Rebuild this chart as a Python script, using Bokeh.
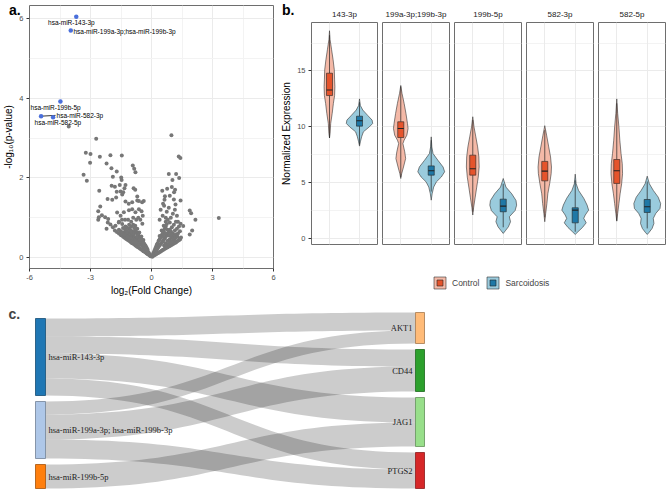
import numpy as np
from bokeh.plotting import figure
from bokeh.models import Range1d, FixedTicker, Grid, Label, Legend, LegendItem, ColumnDataSource, Div
from bokeh.layouts import row, column
from bokeh.embed import file_html
from bokeh.resources import INLINE
from bokeh.core.properties import value

FONT = "Liberation Sans"
SERIF = "Liberation Serif"

# ---------------- panel a data (volcano) ----------------
grey_points = [
    (-2.72, 2.98), (0.98, 3.07), (-3.23, 2.63), (-3.00, 2.60), (-3.02, 2.38), (-3.34, 2.08), (-3.18, 1.93),
    (-2.54, 2.53), (-2.02, 2.57), (-1.46, 2.56), (-2.21, 2.36), (-1.97, 2.24), (-1.71, 2.16), (-1.90, 2.03),
    (-1.49, 2.01), (-0.92, 2.31), (-0.85, 2.23), (-0.79, 2.14), (-1.47, 1.95), (-2.57, 1.68), (-1.96, 1.80),
    (-1.80, 1.78), (-1.71, 1.65), (-1.52, 1.66), (-1.56, 1.82), (-1.28, 1.82), (-1.33, 1.74), (-0.88, 1.74),
    (-0.80, 1.70), (-2.16, 1.47), (-1.93, 1.45), (-1.74, 1.51), (-1.44, 1.58), (-1.39, 1.64), (-1.28, 1.41),
    (-1.12, 1.35), (-0.95, 1.39), (-0.70, 1.43), (-0.46, 1.39), (-0.38, 1.42), (-0.70, 1.53), (-0.62, 1.42),
    (-2.52, 1.28), (-2.62, 1.16), (-2.59, 1.01), (-2.44, 1.06), (-2.28, 1.01), (-2.13, 0.97), (-2.62, 0.95),
    (-2.15, 0.88), (-2.21, 0.72), (-2.02, 0.83), (-1.90, 0.76), (-1.69, 1.13), (-1.52, 1.05), (-1.36, 1.14),
    (-1.11, 1.19), (-0.95, 1.21), (-0.79, 1.14), (-0.62, 1.21), (-0.49, 1.16), (-0.43, 1.05), (-1.61, 0.88),
    (-1.44, 0.84), (-1.28, 0.78), (-1.11, 0.72), (-1.77, 0.80), (-1.52, 0.63), (-1.36, 0.55), (-4.07, 3.29),
    (1.34, 2.54), (1.42, 2.50), (0.85, 2.10), (1.21, 2.10), (1.36, 2.00), (1.03, 1.95), (0.53, 1.68),
    (0.77, 1.73), (1.00, 1.77), (1.11, 1.64), (1.16, 1.70), (0.66, 1.54), (0.64, 1.45), (0.57, 1.35),
    (0.90, 1.55), (1.10, 1.46), (1.18, 1.33), (1.43, 1.43), (1.88, 1.18), (1.95, 1.11), (2.16, 0.95),
    (2.00, 0.68), (1.88, 0.58), (3.31, 0.99), (1.43, 0.85), (1.39, 0.45), (1.56, 0.79), (0.45, 1.20),
    (0.55, 1.05), (0.62, 1.30), (0.75, 1.15), (0.85, 1.25), (0.95, 1.00), (1.05, 1.10), (1.15, 1.20),
    (0.40, 0.95), (0.70, 1.00), (1.25, 1.05), (1.30, 0.90), (-0.55, 0.95), (-0.65, 1.00), (-0.45, 0.85),
    (-0.75, 0.95), (-0.90, 1.00), (-1.15, 0.95), (-1.30, 0.95), (-1.45, 0.95), (-1.60, 0.90),
    (-0.05, 0.03), (-0.08, 0.05), (-0.12, 0.06), (-0.12, 0.11), (-0.16, 0.08), (-0.16, 0.14), (-0.2, 0.09),
    (-0.2, 0.16), (-0.2, 0.21), (-0.25, 0.11), (-0.25, 0.18), (-0.25, 0.26), (-0.3, 0.13), (-0.3, 0.21),
    (-0.3, 0.3), (-0.35, 0.15), (-0.35, 0.24), (-0.35, 0.34), (-0.4, 0.16), (-0.4, 0.27), (-0.4, 0.38),
    (-0.4, 0.44), (-0.45, 0.19), (-0.45, 0.3), (-0.45, 0.42), (-0.5, 0.2), (-0.5, 0.32), (-0.5, 0.45),
    (-0.5, 0.53), (-0.55, 0.22), (-0.55, 0.35), (-0.55, 0.5), (-0.6, 0.24), (-0.6, 0.38), (-0.6, 0.52),
    (-0.6, 0.63), (-0.65, 0.26), (-0.65, 0.41), (-0.65, 0.57), (-0.7, 0.27), (-0.7, 0.44), (-0.7, 0.6),
    (-0.7, 0.72), (-0.75, 0.29), (-0.75, 0.47), (-0.75, 0.64), (-0.8, 0.31), (-0.8, 0.5), (-0.8, 0.68),
    (-0.8, 0.8), (-0.85, 0.33), (-0.85, 0.45), (-0.85, 0.6), (-0.85, 0.74), (-0.9, 0.35), (-0.9, 0.55),
    (-0.9, 0.82), (-0.95, 0.36), (-0.95, 0.5), (-0.95, 0.66), (-1.0, 0.38), (-1.0, 0.58), (-1.0, 0.78),
    (-1.0, 0.9), (-1.05, 0.4), (-1.05, 0.52), (-1.05, 0.7), (-1.1, 0.42), (-1.1, 0.62), (-1.1, 0.82),
    (-1.15, 0.44), (-1.15, 0.55), (-1.2, 0.45), (-1.2, 0.66), (-1.2, 0.75), (-1.25, 0.47), (-1.25, 0.58),
    (-1.3, 0.49), (-1.3, 0.7), (-1.35, 0.51), (-1.35, 0.62), (-1.4, 0.53), (-1.4, 0.74), (-1.5, 0.56),
    (-1.5, 0.66), (-1.6, 0.6), (-1.6, 0.7), (-1.7, 0.64), (-1.8, 0.68),
    (-0.62, 0.31), (-0.68, 0.35), (-0.78, 0.39), (-0.88, 0.41), (-0.98, 0.46), (-1.08, 0.49), (-1.18, 0.52),
    (-0.58, 0.45), (-0.72, 0.52), (-0.92, 0.61), (-1.02, 0.65), (-1.22, 0.62), (-1.32, 0.58), (-1.45, 0.6),
    (0.04, 0.02), (0.07, 0.04), (0.07, 0.08), (0.1, 0.05), (0.1, 0.12), (0.14, 0.06), (0.14, 0.1),
    (0.14, 0.17), (0.18, 0.07), (0.18, 0.14), (0.18, 0.22), (0.22, 0.08), (0.22, 0.17), (0.22, 0.27),
    (0.26, 0.1), (0.26, 0.2), (0.26, 0.32), (0.3, 0.11), (0.3, 0.23), (0.3, 0.36), (0.35, 0.12),
    (0.35, 0.27), (0.35, 0.42), (0.4, 0.14), (0.4, 0.3), (0.4, 0.46), (0.4, 0.54), (0.45, 0.15),
    (0.45, 0.34), (0.45, 0.5), (0.5, 0.17), (0.5, 0.37), (0.5, 0.56), (0.5, 0.68), (0.55, 0.19),
    (0.55, 0.4), (0.55, 0.6), (0.6, 0.2), (0.6, 0.44), (0.6, 0.66), (0.6, 0.8), (0.65, 0.22),
    (0.65, 0.48), (0.65, 0.72), (0.7, 0.23), (0.7, 0.36), (0.7, 0.52), (0.7, 0.78), (0.7, 0.9),
    (0.75, 0.25), (0.75, 0.56), (0.75, 0.84), (0.8, 0.26), (0.8, 0.42), (0.8, 0.6), (0.8, 0.95),
    (0.85, 0.28), (0.85, 0.64), (0.9, 0.29), (0.9, 0.46), (0.9, 0.7), (0.9, 0.88), (0.95, 0.31),
    (0.95, 0.66), (1.0, 0.32), (1.0, 0.5), (1.0, 0.76), (1.05, 0.34), (1.05, 0.6), (1.1, 0.35),
    (1.1, 0.55), (1.1, 0.82), (1.15, 0.37), (1.15, 0.68), (1.2, 0.38), (1.2, 0.58), (1.2, 0.9),
    (1.25, 0.4), (1.25, 0.72), (1.3, 0.42), (1.3, 0.6), (1.35, 0.44), (1.35, 0.78), (1.4, 0.46),
    (1.4, 0.66), (1.45, 0.5),
    (0.62, 0.3), (0.72, 0.31), (0.82, 0.34), (0.92, 0.38), (1.02, 0.41), (1.12, 0.45), (0.58, 0.52),
    (0.68, 0.6), (0.78, 0.7), (0.88, 0.55), (0.98, 0.58), (1.08, 0.48), (1.18, 0.5), (1.28, 0.52),
]
grey_fc = [p[0] for p in grey_points]
grey_nlp = [p[1] for p in grey_points]

sig_names = ["hsa-miR-143-3p", "hsa-miR-199a-3p;hsa-miR-199b-3p", "hsa-miR-199b-5p",
             "hsa-miR-582-3p", "hsa-miR-582-5p"]
sig_fc = [-3.70, -3.97, -4.48, -5.43, -4.84]
sig_nlp = [6.05, 5.70, 3.92, 3.55, 3.52]
sig_text_x = [-3.94, -3.84, -5.95, -4.67, -5.75]
sig_text_y = [5.90, 5.67, 3.77, 3.57, 3.39]
sig_text_align = ["center", "left", "left", "left", "left"]

# ---------------- panel b data (violins) ----------------
facet_names = ["143-3p", "199a-3p;199b-3p", "199b-5p", "582-3p", "582-5p"]
groups = ["Control", "Sarcoidosis"]
ctrl_vy = [
    [18.6, 17.8, 16.9, 16.0, 15.1, 14.2, 13.6, 12.8, 12.1, 11.2, 10.3, 9.4, 9.0],
    [13.7, 13.0, 12.1, 11.2, 10.3, 9.85, 9.25, 8.8, 8.5, 7.76, 7.16, 6.4, 5.8, 5.37],
    [10.9, 10.0, 9.1, 8.2, 7.3, 6.4, 5.5, 4.6, 3.7, 2.8, 2.1],
    [10.1, 9.25, 8.2, 7.3, 6.4, 5.8, 4.9, 4.0, 3.13, 2.24, 1.5],
    [12.5, 11.2, 10.0, 8.8, 7.6, 6.7, 5.8, 4.9, 4.0, 3.13, 2.24, 1.55]]
ctrl_vw = [
    [0, .02, .07, .12, .16, .17, .18, .17, .13, .09, .04, .02, 0],
    [0, .04, .11, .17, .22, .24, .2, .11, .07, .13, .16, .09, .03, 0],
    [0, .04, .1, .16, .2, .21, .18, .13, .08, .03, 0],
    [0, .06, .13, .19, .22, .21, .16, .1, .07, .03, 0],
    [0, .03, .07, .1, .14, .18, .19, .16, .11, .07, .03, 0]]
sarc_vy = [
    [12.5, 11.9, 11.5, 11.0, 10.6, 10.3, 10.0, 9.55, 9.1, 8.66, 8.27],
    [9.1, 8.2, 7.6, 7.0, 6.4, 5.97, 5.5, 5.07, 4.6, 4.0, 3.43],
    [5.37, 4.6, 4.0, 3.4, 2.98, 2.5, 1.94, 1.5, 1.04, 0.69, 0.45],
    [5.76, 4.9, 4.3, 3.6, 2.99, 2.54, 2.1, 1.8, 1.4, 0.99, 0.6, 0.36],
    [5.58, 4.9, 4.3, 3.7, 3.13, 2.69, 2.24, 1.8, 1.34, 0.9, 0.54, 0.36]]
sarc_vw = [
    [0, .03, .11, .28, .42, .44, .33, .13, .07, .03, 0],
    [0, .02, .06, .22, .39, .44, .33, .17, .08, .03, 0],
    [0, .09, .28, .42, .44, .39, .2, .24, .17, .07, 0],
    [0, .03, .11, .28, .39, .44, .33, .28, .36, .24, .09, 0],
    [0, .07, .2, .36, .44, .42, .28, .2, .22, .16, .06, 0]]
ctrl_q1 = [12.8, 9.04, 5.67, 5.16, 4.93]
ctrl_med = [13.3, 9.85, 6.24, 6.03, 6.06]
ctrl_q3 = [14.8, 10.45, 7.46, 6.9, 7.07]
ctrl_lo = [9.0, 5.5, 2.4, 1.9, 1.6]
ctrl_hi = [18.2, 13.6, 10.6, 9.7, 12.1]
sarc_q1 = [10.06, 5.67, 2.39, 1.40, 2.33]
sarc_med = [10.54, 6.06, 2.9, 2.54, 2.84]
sarc_q3 = [10.95, 6.5, 3.52, 2.75, 3.49]
sarc_lo = [8.4, 4.2, 1.0, 0.6, 0.9]
sarc_hi = [12.2, 8.8, 4.9, 5.2, 5.1]

# ---------------- panel c data (sankey) ----------------
mirna_nodes = ["hsa-miR-143-3p", "hsa-miR-199a-3p; hsa-miR-199b-3p", "hsa-miR-199b-5p"]
gene_nodes = ["AKT1", "CD44", "JAG1", "PTGS2"]
link_source = [0, 0, 0, 0, 1, 1, 1, 2]
link_target = [0, 1, 2, 3, 0, 1, 3, 2]
link_value = [18, 17, 25, 17, 13, 25, 19, 24]
mirna_colors = ["#1f77b4", "#aec7e8", "#ff7f0e"]
gene_colors = ["#ffbb78", "#2ca02c", "#98df8a", "#d62728"]

CTRL_V, CTRL_B = "#F4B9A7", "#E5542C"
SARC_V, SARC_B = "#9ACBDD", "#1F78A6"
BORDER = "#6e6e6e"
GRID_MAJ, GRID_MIN = "#EBEBEB", "#F3F3F3"


def style_axis(ax):
    ax.axis_line_color = None
    ax.major_tick_line_color = "#333333"
    ax.major_tick_out = 3
    ax.major_tick_in = 0
    ax.minor_tick_line_color = None
    ax.major_label_text_font = FONT
    ax.major_label_text_font_size = "7.5px"
    ax.major_label_text_color = "#4D4D4D"
    ax.major_label_standoff = 2
    ax.axis_label_text_font = FONT
    ax.axis_label_text_font_size = "10px"
    ax.axis_label_text_font_style = "normal"
    ax.axis_label_text_color = "black"
    ax.axis_label_standoff = 2


def letter_div(txt, left, top):
    return Div(text=txt, width=20, height=18,
               styles={"position": "absolute", "left": f"{left}px", "top": f"{top}px",
                       "font-family": FONT, "font-weight": "bold", "font-size": "14px",
                       "line-height": "14px", "color": "black", "z-index": "10"})


# ================= panel a =================
pa = figure(width=278, height=298, output_backend="svg", toolbar_location=None,
            x_range=Range1d(-6, 6), y_range=Range1d(-0.276, 6.33),
            min_border_left=29, min_border_right=5, min_border_top=5, min_border_bottom=30)
pa.outline_line_color = BORDER
pa.xaxis.ticker = FixedTicker(ticks=[-6, -3, 0, 3, 6], minor_ticks=[-4.5, -1.5, 1.5, 4.5])
pa.yaxis.ticker = FixedTicker(ticks=[0, 2, 4, 6], minor_ticks=[1, 3, 5])
pa.xaxis.major_label_overrides = {-6: "-6", -3: "-3", 0: "0", 3: "3", 6: "6"}
pa.yaxis.major_label_overrides = {0: "0", 2: "2", 4: "4", 6: "6"}
pa.xaxis.axis_label = "log\u2082(Fold Change)"
pa.yaxis.axis_label = "-log\u2081\u2080(p-value)"
style_axis(pa.xaxis[0])
style_axis(pa.yaxis[0])
for g in (pa.xgrid[0], pa.ygrid[0]):
    g.grid_line_color = GRID_MAJ
    g.minor_grid_line_color = GRID_MIN

pa.scatter(grey_fc, grey_nlp, size=4, color="#777777", line_width=0)
pa.segment(x0=[sig_fc[3]], y0=[sig_nlp[3]], x1=[sig_text_x[3] - 0.05], y1=[sig_text_y[3]],
           line_color="black", line_width=0.8)
pa.scatter(sig_fc, sig_nlp, size=4.5, color="#4A6FDB", line_width=0)
src_lab = ColumnDataSource(dict(x=sig_text_x, y=sig_text_y, t=sig_names, a=sig_text_align))
pa.text(x="x", y="y", text="t", text_align="a", source=src_lab, text_baseline="middle",
        text_font=value(FONT), text_font_size="6.5px", text_color="black")

# ================= panel b =================
facets = []
nf = len(facet_names)
for i, name in enumerate(facet_names):
    first = i == 0
    last = i == nf - 1
    p = figure(width=101 if first else (73 if last else 72), height=248, title=name,
               x_range=Range1d(0.4, 2.6), y_range=Range1d(-0.54, 19.34),
               x_axis_location=None, y_axis_location=("left" if first else None),
               min_border_left=32 if first else 3, min_border_right=3 if last else 2,
               min_border_top=22, min_border_bottom=4,
               toolbar_location=None, output_backend="svg")
    p.outline_line_color = BORDER
    p.grid.visible = False
    p.title.align = "center"
    p.title.text_font = FONT
    p.title.text_font_size = "8px"
    p.title.text_font_style = "normal"
    p.title.text_color = "#1A1A1A"
    p.title.standoff = 8
    yt = FixedTicker(ticks=[0, 5, 10, 15], minor_ticks=[2.5, 7.5, 12.5, 17.5])
    if first:
        p.yaxis.ticker = yt
        p.yaxis.axis_label = "Normalized Expression"
        style_axis(p.yaxis[0])
    p.add_layout(Grid(dimension=1, ticker=yt, grid_line_color=GRID_MAJ, minor_grid_line_color=GRID_MIN))
    p.add_layout(Grid(dimension=0, ticker=FixedTicker(ticks=[1, 2]), grid_line_color=GRID_MAJ))

    for cx, vy, vw, q1, med, q3, lo, hi, vfill, bfill in [
        (1, ctrl_vy[i], ctrl_vw[i], ctrl_q1[i], ctrl_med[i], ctrl_q3[i], ctrl_lo[i], ctrl_hi[i], CTRL_V, CTRL_B),
        (2, sarc_vy[i], sarc_vw[i], sarc_q1[i], sarc_med[i], sarc_q3[i], sarc_lo[i], sarc_hi[i], SARC_V, SARC_B)]:
        xs = [cx - w for w in vw] + [cx + w for w in vw[::-1]]
        ys = list(vy) + list(vy[::-1])
        p.patch(xs, ys, fill_color=vfill, line_color="#333333", line_width=0.6)
        p.segment(x0=[cx, cx], y0=[q3, q1], x1=[cx, cx], y1=[hi, lo], line_color="#222222", line_width=0.7)
        p.quad(left=[cx - 0.1], right=[cx + 0.1], bottom=[q1], top=[q3], fill_color=bfill,
               line_color="#222222", line_width=0.6)
        p.segment(x0=[cx - 0.1], y0=[med], x1=[cx + 0.1], y1=[med], line_color="#222222", line_width=1.1)
    facets.append(p)

# legend strip under the facets (keys are off-range so only the legend shows them)
pl = figure(width=390, height=50, x_range=Range1d(0, 1), y_range=Range1d(0, 1),
            x_axis_location=None, y_axis_location=None, min_border=0,
            toolbar_location=None, output_backend="svg")
pl.outline_line_color = None
pl.grid.visible = False
items = []
for gname, vfill, bfill in [(groups[0], CTRL_V, CTRL_B), (groups[1], SARC_V, SARC_B)]:
    rv = pl.quad(left=[5], right=[6], bottom=[5], top=[6], fill_color=vfill, line_color="#333333",
                 line_width=0.6)
    rb = pl.scatter(x=[5], y=[5], marker="square", size=9, fill_color=bfill, line_color="#222222",
                    line_width=0.6)
    items.append(LegendItem(label=gname, renderers=[rv, rb]))
leg = Legend(items=items, orientation="horizontal", location=(154, 8), glyph_width=15, glyph_height=15,
             label_text_font=FONT, label_text_font_size="8.5px", spacing=6, padding=0, margin=0,
             label_standoff=5, border_line_color=None, background_fill_alpha=0)
pl.add_layout(leg)

# ================= panel c =================
pc = figure(width=668, height=203, x_range=Range1d(0, 668), y_range=Range1d(501, 298),
            x_axis_location=None, y_axis_location=None, min_border=0,
            toolbar_location=None, output_backend="svg")
pc.outline_line_color = None
pc.grid.visible = False

L_X0, L_X1, R_X0, R_X1 = 35, 45, 415, 424
BOTTOM, PAD, K = 488, 6, 1.0
left_tot = [sum(v for s, v in zip(link_source, link_value) if s == i) for i in range(len(mirna_nodes))]
right_tot = [sum(v for t, v in zip(link_target, link_value) if t == j) for j in range(len(gene_nodes))]


def stack(tots):
    y = BOTTOM - (sum(tots) * K + PAD * (len(tots) - 1))
    out = []
    for t in tots:
        out.append((y, y + t * K))
        y += t * K + PAD
    return out


left_pos = stack(left_tot)
right_pos = stack(right_tot)
src_off = [lp[0] for lp in left_pos]
tgt_off = [rp[0] for rp in right_pos]
link_geom = {}
for k in sorted(range(len(link_value)), key=lambda k: (link_source[k], link_target[k])):
    s = link_source[k]
    link_geom[k] = [src_off[s], src_off[s] + link_value[k] * K]
    src_off[s] += link_value[k] * K
for k in sorted(range(len(link_value)), key=lambda k: (link_target[k], link_source[k])):
    t = link_target[k]
    link_geom[k] += [tgt_off[t], tgt_off[t] + link_value[k] * K]
    tgt_off[t] += link_value[k] * K

tt = np.linspace(0, 1, 40)
xm = (L_X1 + R_X0) / 2
bx = (1 - tt) ** 3 * L_X1 + 3 * (1 - tt) ** 2 * tt * xm + 3 * (1 - tt) * tt ** 2 * xm + tt ** 3 * R_X0


def by(a, b):
    return (1 - tt) ** 3 * a + 3 * (1 - tt) ** 2 * tt * a + 3 * (1 - tt) * tt ** 2 * b + tt ** 3 * b


lxs, lys = [], []
for k in range(len(link_value)):
    s0, s1, t0, t1 = link_geom[k]
    lxs.append(list(bx) + list(bx[::-1]))
    lys.append(list(by(s0, t0)) + list(by(s1, t1)[::-1]))
pc.patches(lxs, lys, fill_color="black", fill_alpha=0.2, line_color=None)


def darker(hexc, f=0.65):
    r, g, b = int(hexc[1:3], 16), int(hexc[3:5], 16), int(hexc[5:7], 16)
    return "#%02x%02x%02x" % (int(r * f), int(g * f), int(b * f))


pc.quad(left=[L_X0] * len(mirna_nodes), right=[L_X1] * len(mirna_nodes),
        top=[a for a, b in left_pos], bottom=[b for a, b in left_pos],
        fill_color=mirna_colors, line_color=[darker(c) for c in mirna_colors], line_width=0.8)
pc.quad(left=[R_X0] * len(gene_nodes), right=[R_X1] * len(gene_nodes),
        top=[a for a, b in right_pos], bottom=[b for a, b in right_pos],
        fill_color=gene_colors, line_color=[darker(c) for c in gene_colors], line_width=0.8)
pc.text(x=[L_X1 + 3] * len(mirna_nodes), y=[(a + b) / 2 for a, b in left_pos], text=mirna_nodes,
        text_align="left", text_baseline="middle", text_font=value(SERIF), text_font_size="8.5px",
        text_color="#222222")
pc.text(x=[R_X0 - 3] * len(gene_nodes), y=[(a + b) / 2 for a, b in right_pos], text=gene_nodes,
        text_align="right", text_baseline="middle", text_font=value(SERIF), text_font_size="8.5px",
        text_color="#222222")
pc.add_layout(Label(x=8, y=305, text="c.", text_font=FONT, text_font_style="bold",
                    text_font_size="14px", text_baseline="top", text_align="left"))

layout = column(letter_div("a.", 4, -2), letter_div("b.", 277, -2),
                row(pa, column(row(*facets), pl)), pc)
open("out.html", "w").write(file_html(layout, INLINE))
